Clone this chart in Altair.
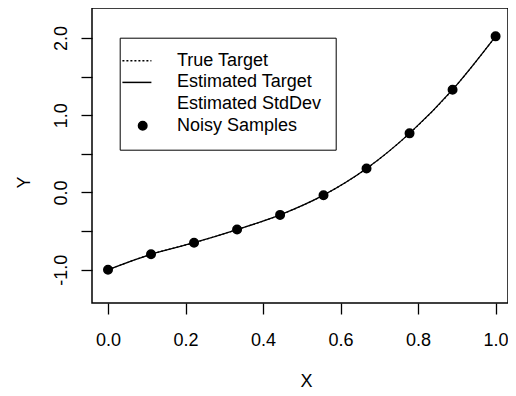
import math
import altair as alt
import pandas as pd

# ---- data ----
x_vals = [0.0, 0.111, 0.222, 0.333, 0.444, 0.556, 0.667, 0.778, 0.889, 1.0]
y_true = [-1.00, -0.80, -0.65, -0.48, -0.29, -0.035, 0.31, 0.765, 1.33, 2.02]
y_est = [-1.00, -0.80, -0.65, -0.48, -0.29, -0.035, 0.31, 0.765, 1.33, 2.02]
y_noisy = [-1.00, -0.80, -0.65, -0.48, -0.29, -0.035, 0.31, 0.765, 1.33, 2.02]
series_names = ["True Target", "Estimated Target", "Estimated StdDev", "Noisy Samples"]
x_ticks = [0.0, 0.2, 0.4, 0.6, 0.8, 1.0]
y_ticks = [-1.0, -0.5, 0.0, 0.5, 1.0, 1.5, 2.0]

df_true = pd.DataFrame({"x": x_vals, "y": y_true, "series": "True Target"})
df_est = pd.DataFrame({"x": x_vals, "y": y_est, "series": "Estimated Target"})
df_pts = pd.DataFrame({"x": x_vals, "y": y_noisy, "series": "Noisy Samples"})

FONT = "Liberation Sans"
PT_SIZE = 72
k = math.sqrt(PT_SIZE) / 2.0
half = 14.5
shift = -5.8  # legend line sample sits a little left of the circle sample
solid_path = f"M {(shift - half)/k:.3f} 0 L {(shift + half)/k:.3f} 0"
dots = []
s = -half
while s < half:
    e = min(s + 2.0, half)
    dots.append(f"M {(shift + s)/k:.3f} 0 L {(shift + e)/k:.3f} 0")
    s += 4.0
dotted_path = " ".join(dots)
shape_range = [dotted_path, solid_path, "M 0 0", "circle"]

xscale = alt.Scale(domain=[-0.0413, 1.032], nice=False, zero=False)
yscale = alt.Scale(domain=[-1.43, 2.387], nice=False, zero=False)

xaxis = alt.Axis(
    values=x_ticks, format=".1f", title="X", grid=False, domain=False,
    tickSize=11, tickColor="black", tickWidth=1.3,
    labelFont=FONT, labelFontSize=18, labelColor="black", labelPadding=17,
    labelBaseline="top", labelFlush=False,
    titleFont=FONT, titleFontSize=18, titleFontWeight="normal", titleColor="black",
    titleX=214, titleY=78.5, titleBaseline="middle", titleAlign="center",
)
yaxis = alt.Axis(
    values=y_ticks, title="Y", grid=False, domain=False,
    labelExpr="datum.value % 1 == 0 ? ((datum.value < 0 ? '-' : '') + format(abs(datum.value), '.1f')) : ''",
    tickSize=11, tickColor="black", tickWidth=1.3,
    labelFont=FONT, labelFontSize=18, labelColor="black", labelPadding=15,
    labelAngle=270, labelAlign="center", labelBaseline="alphabetic", labelFlush=False,
    titleFont=FONT, titleFontSize=18, titleFontWeight="normal", titleColor="black",
    titleAngle=270, titleX=-68, titleY=174, titleAlign="center", titleBaseline="middle",
)

true_line = alt.Chart(df_true).mark_line(
    color="black", strokeWidth=1.2, strokeDash=[2, 2], interpolate="monotone"
).encode(x=alt.X("x:Q", scale=xscale, axis=xaxis), y=alt.Y("y:Q", scale=yscale, axis=yaxis))

est_line = alt.Chart(df_est).mark_line(
    color="black", strokeWidth=1.3, interpolate="monotone"
).encode(x=alt.X("x:Q", scale=xscale), y=alt.Y("y:Q", scale=yscale))

points = alt.Chart(df_pts).mark_point(
    filled=True, color="black", stroke="black",
    strokeWidth=1.5, size=PT_SIZE, opacity=1
).encode(
    x=alt.X("x:Q", scale=xscale),
    y=alt.Y("y:Q", scale=yscale),
    shape=alt.Shape(
        "series:N",
        scale=alt.Scale(domain=series_names, range=shape_range),
        legend=alt.Legend(
            title=None, orient="none", legendX=27.7, legendY=29.7,
            strokeColor="black", padding=14, fillColor="white",
            labelFont=FONT, labelFontSize=18, labelColor="black",
            labelOffset=25.3, rowPadding=3.7, symbolSize=PT_SIZE,
            symbolStrokeWidth=1.5,
        ),
    ),
)

chart = alt.layer(true_line, est_line, points).properties(
    width=416, height=295,
    background="white",
    autosize=alt.AutoSizeParams(type="none"),
    padding={"left": 84, "top": 0, "right": 0, "bottom": 88},
).configure_view(
    stroke="black", strokeWidth=1.5
).configure_legend(
    symbolBaseStrokeColor="black", symbolBaseFillColor="black"
)

chart.save("out.html", embed_options={"renderer": "svg", "actions": False})
